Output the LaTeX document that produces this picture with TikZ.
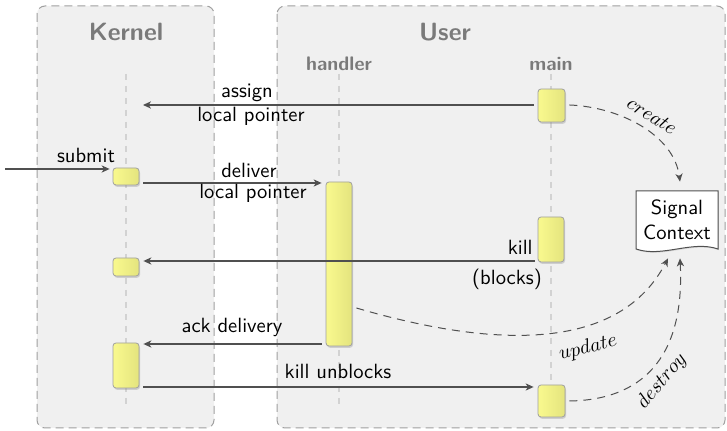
\documentclass[tikz,border=0pt]{standalone}
\usetikzlibrary{arrows.meta,shadows,calc}

\definecolor{paneFill}{HTML}{F0F0F0}
\definecolor{paneLine}{HTML}{A0A0A0}
\definecolor{lifeLine}{HTML}{D2D2D2}
\definecolor{titleGray}{HTML}{7A7A7A}
\definecolor{actLeft}{HTML}{F9F98E}
\definecolor{actRight}{HTML}{E4E47E}
\definecolor{actLine}{HTML}{A0A0A0}
\definecolor{msgLine}{HTML}{505050}

\begin{document}
\begin{tikzpicture}[x=0.5pt,y=-0.5pt,
  font=\sffamily\fontsize{10.3}{12.4}\selectfont,
  pane/.style={draw=paneLine, fill=paneFill, dash pattern=on 4pt off 2.5pt,
    rounded corners=4pt, line width=0.5pt},
  paneTitle/.style={text=titleGray, font=\sffamily\bfseries\fontsize{12.5}{15}\selectfont},
  laneTitle/.style={text=titleGray, font=\sffamily\bfseries\fontsize{9.8}{12}\selectfont},
  life/.style={draw=lifeLine, line width=0.7pt, dash pattern=on 3pt off 3pt},
  act/.style={draw=actLine, line width=0.4pt, rounded corners=1.5pt,
    left color=actLeft, right color=actRight, inner sep=0pt,
    drop shadow={shadow xshift=0.5pt, shadow yshift=-0.9pt, opacity=0.3}},
  msg/.style={draw=msgLine, line width=0.6pt,
    -{Stealth[length=4pt, width=3.6pt, inset=1.2pt]}},
  flow/.style={draw=msgLine, line width=0.5pt, dash pattern=on 4pt off 3pt,
    -{Stealth[length=4pt, width=3.6pt, inset=1.2pt]}},
  lbl/.style={inner sep=1pt},
  ctxlbl/.style={inner sep=0pt, font=\fontsize{10.3}{12.4}\selectfont}
]
\useasboundingbox (0,0) rectangle (727,431);

% swim lanes
\draw[pane] (37,6) rectangle (214,428);
\draw[pane] (277,6) rectangle (725,428);
\node[paneTitle] (tKernel) at (126,32) {Kernel};
\node[paneTitle] (tUser) at (445,32) {User};
\node[laneTitle] (tHandler) at (339,64) {handler};
\node[laneTitle] (tMain) at (551,64) {main};

% lifelines
\draw[life] (126,74) -- (126,404);
\draw[life] (339,74) -- (339,404);
\draw[life] (551,74) -- (551,404);

% activation bars
\node[act, minimum width=13.5pt, minimum height=16.5pt] (m1) at (551.5,105.5) {};
\node[act, minimum width=13pt, minimum height=8.5pt] (k1) at (126,176.5) {};
\node[act, minimum width=13pt, minimum height=82pt] (h1) at (339,264) {};
\node[act, minimum width=13pt, minimum height=22.5pt] (m2) at (551,239.5) {};
\node[act, minimum width=13pt, minimum height=9pt] (k2) at (126,267) {};
\node[act, minimum width=13pt, minimum height=22.5pt] (k3) at (126,365.5) {};
\node[act, minimum width=13.5pt, minimum height=16pt] (m3) at (551.5,401) {};

% shared signal context (document shape)
\draw[draw=msgLine, line width=0.5pt, fill=white,
      drop shadow={shadow xshift=0.4pt, shadow yshift=-0.6pt, opacity=0.2}]
  (636,191) -- (718,191) -- (718,249)
  .. controls (692,240) and (662,258) .. (636,249) -- cycle;
\node[minimum width=41pt, minimum height=29pt, align=center, inner sep=0pt] (sc)
  at (677,220) {Signal\\Context};

% message rows
\coordinate (rowA) at (0,105);
\coordinate (rowS) at (0,169);
\coordinate (rowD) at (0,183);
\coordinate (rowK) at (0,261);
\coordinate (rowAck) at (0,344);
\coordinate (rowU) at (0,387);
\coordinate (rowUp) at (0,308);
\coordinate (assignEnd) at (143,105);
\coordinate (submitStart) at (5,169);

% messages
\draw[msg] ($(m1.west|-rowA)+(-4,0)$) -- (assignEnd);
\draw[msg] (submitStart) -- ($(k1.west|-rowS)+(-3,0)$);
\draw[msg] ($(k1.east|-rowD)+(4,0)$) -- ($(h1.west|-rowD)+(-4,0)$);
\draw[msg] ($(m2.west|-rowK)+(-3,0)$) -- ($(k2.east|-rowK)+(4,0)$);
\draw[msg] ($(h1.west|-rowAck)+(-4,0)$) -- ($(k3.east|-rowAck)+(4,0)$);
\draw[msg] ($(k3.east|-rowU)+(4,0)$) -- ($(m3.west|-rowU)+(-4,0)$);

% message labels
\node[lbl] (lAssign) at (247,93) {assign};
\node[lbl] (lAssignPtr) at (251,116) {local pointer};
\node[lbl] (lSubmit) at (86,155) {submit};
\node[lbl] (lDeliver) at (249,170) {deliver};
\node[lbl] (lDeliverPtr) at (253,193) {local pointer};
\node[lbl, anchor=east] (lKill) at (535,247) {kill};
\node[lbl] (lBlocks) at (507,279) {(blocks)};
\node[lbl] (lAck) at (232,327) {ack delivery};
\node[lbl] (lUnblocks) at (338,371) {kill unblocks};

% context life cycle
\draw[flow] ($(m1.east|-rowA)+(4,0)$) .. controls (620,107) and (674,135) ..
  ([xshift=1.5pt,yshift=4.5pt]sc.north);
\draw[flow] ($(h1.east|-rowUp)+(4,0)$) .. controls (500,350) and (620,350) ..
  ([xshift=-4.5pt,yshift=-4.5pt]sc.south);
\draw[flow] ($(m3.east)+(4,0)$) .. controls (640,400) and (685,360) ..
  ([xshift=1.5pt,yshift=-4.5pt]sc.south);
\node[ctxlbl, rotate=-32] (lCreate) at (652,116) {$create$};
\node[ctxlbl, rotate=14] (lUpdate) at (588,348) {$update$};
\node[ctxlbl, rotate=50] (lDestroy) at (662,381) {$destroy$};
\end{tikzpicture}
\end{document}
